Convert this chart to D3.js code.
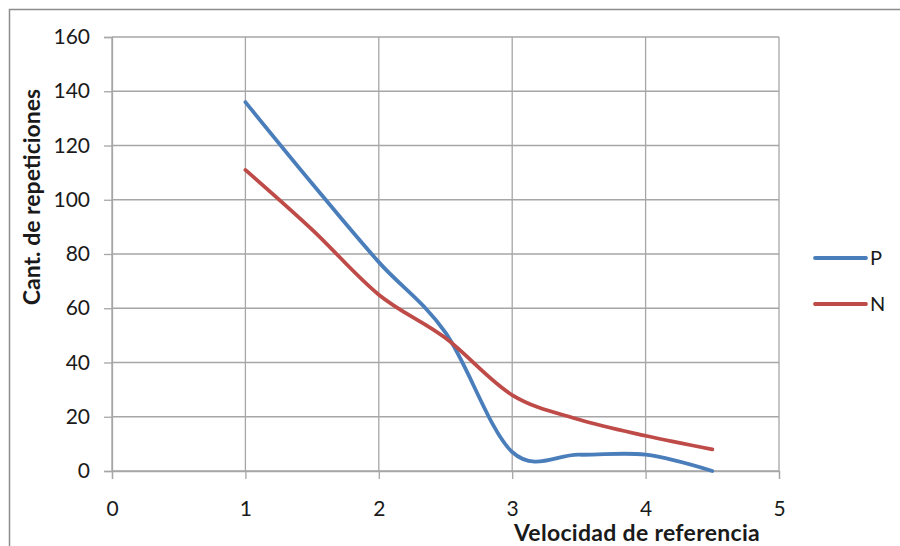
<!DOCTYPE html>
<html>
<head>
<meta charset="utf-8">
<script src="https://cdn.jsdelivr.net/npm/d3@7"></script>
<style>
  body { margin: 0; background: #fff; }
  text { font-family: Lato, "Open Sans", sans-serif; fill: #1a1a1a; }
</style>
</head>
<body>
<div id="chart"></div>
<script>
// chart values
const velocidad = [1, 1.5, 2, 2.5, 3, 3.5, 4, 4.5];
const serieP = [136, 106, 77, 51, 7, 6, 6, 0];
const serieN = [111, 89, 65, 49, 28, 19, 13, 8];
const seriesNames = ['P', 'N'];
const xTicks = [0, 1, 2, 3, 4, 5];
const yTicks = [0, 20, 40, 60, 80, 100, 120, 140, 160];

const width = 900, height = 546;
// plot area in page pixels
const margin = {top: 37, left: 112, right: 121, bottom: 75};
const cWidth = width - margin.left - margin.right;
const cHeight = height - margin.top - margin.bottom;

const colors = {P: '#4a7ebb', N: '#be4b48'};
const gridColor = '#a6a6a6';

const svg = d3.select('#chart').append('svg')
    .attr('width', width)
    .attr('height', height);

// outer chart frame (right/bottom edges fall outside the picture)
svg.append('rect')
    .attr('x', 9.5).attr('y', 9.5)
    .attr('width', width + 20).attr('height', height + 20)
    .attr('fill', 'none')
    .attr('stroke', '#8c8c8c')
    .attr('stroke-width', 1.5);

const g = svg.append('g').attr('transform', `translate(${margin.left},${margin.top})`);

const x = d3.scaleLinear().domain([0, 5]).range([0, cWidth]);
const y = d3.scaleLinear().domain([0, 160]).range([cHeight, 0]);

// gridlines
g.append('g')
    .selectAll('line')
    .data(yTicks)
    .enter().append('line')
        .attr('x1', 0).attr('x2', cWidth)
        .attr('y1', d => y(d)).attr('y2', d => y(d))
        .attr('stroke', gridColor).attr('stroke-width', 1.3);

g.append('g')
    .selectAll('line')
    .data(xTicks)
    .enter().append('line')
        .attr('y1', 0).attr('y2', cHeight)
        .attr('x1', d => x(d)).attr('x2', d => x(d))
        .attr('stroke', gridColor).attr('stroke-width', 1.3);

// axes
let xAxis = g.append('g')
    .attr('transform', `translate(0,${cHeight})`)
    .call(d3.axisBottom(x).tickValues(xTicks).tickSize(8).tickPadding(22).tickFormat(d3.format('d')));

let yAxis = g.append('g')
    .call(d3.axisLeft(y).tickValues(yTicks).tickSize(8).tickPadding(14).tickFormat(d3.format('d')));

[xAxis, yAxis].forEach(a => {
    a.select('.domain').attr('stroke', gridColor).attr('stroke-width', 1.3);
    a.selectAll('.tick line').attr('stroke', gridColor).attr('stroke-width', 1.3);
    a.selectAll('.tick text')
        .attr('fill', '#222')
        .style('font-size', '21px')
        .style('font-family', 'Lato, sans-serif');
});

// smoothed lines like the spreadsheet chart
let line = d3.line()
    .x(d => x(d[0]))
    .y(d => y(d[1]))
    .curve(d3.curveCatmullRom.alpha(0));

let series = [
    {name: 'P', values: velocidad.map((v, i) => [v, serieP[i]])},
    {name: 'N', values: velocidad.map((v, i) => [v, serieN[i]])}
];

g.append('g')
    .selectAll('path')
    .data(series)
    .enter().append('path')
        .attr('d', d => line(d.values))
        .attr('fill', 'none')
        .attr('stroke', d => colors[d.name])
        .attr('stroke-width', 3.8)
        .attr('stroke-linecap', 'round')
        .attr('stroke-linejoin', 'round');

// axis titles
svg.append('text')
    .attr('x', 637)
    .attr('y', 541)
    .attr('text-anchor', 'middle')
    .style('font-size', '23px')
    .style('font-weight', 'bold')
    .attr('letter-spacing', '0.3')
    .text('Velocidad de referencia');

svg.append('text')
    .attr('transform', 'translate(40,197) rotate(-90)')
    .attr('text-anchor', 'middle')
    .style('font-size', '23px')
    .style('font-weight', 'bold')
    .text('Cant. de repeticiones');

// legend
let legend = svg.append('g')
    .selectAll('.legend')
    .data(seriesNames)
    .enter().append('g')
        .attr('class', 'legend')
        .attr('transform', (d, i) => `translate(815,${258 + i * 46})`);

legend.append('line')
    .attr('x1', 0).attr('x2', 51)
    .attr('stroke', d => colors[d])
    .attr('stroke-width', 3.8)
    .attr('stroke-linecap', 'round');

legend.append('text')
    .attr('x', 55)
    .attr('dy', '0.36em')
    .style('font-size', '20px')
    .text(d => d);
</script>
</body>
</html>
